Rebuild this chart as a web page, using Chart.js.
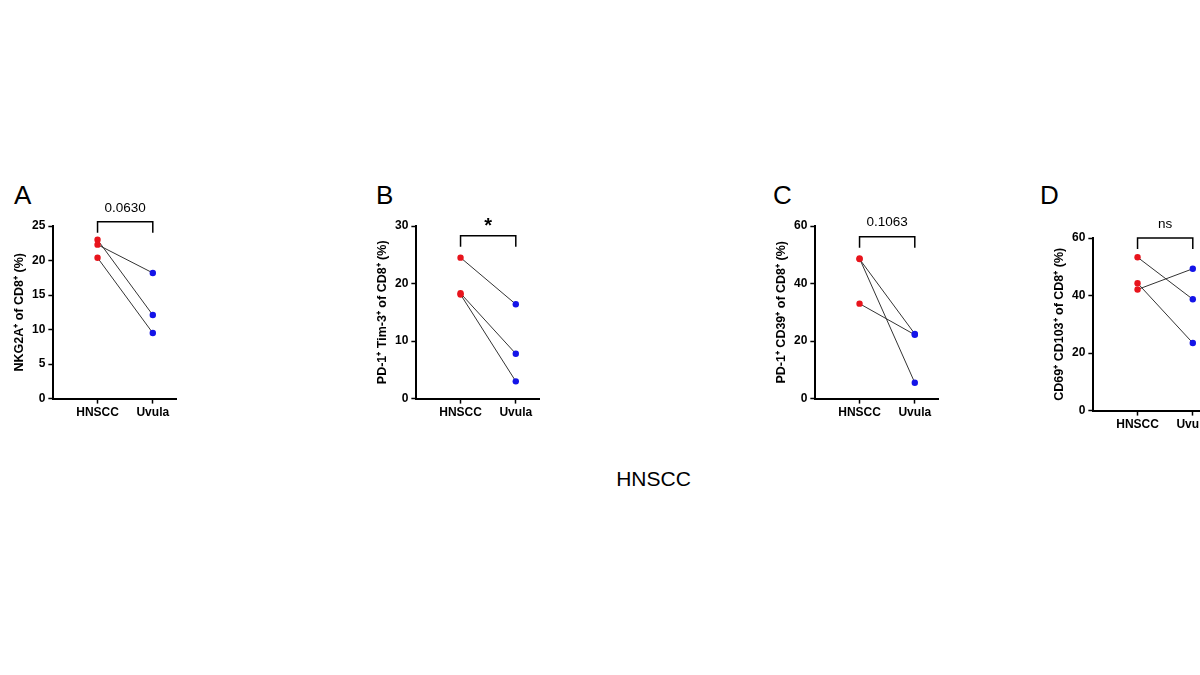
<!DOCTYPE html>
<html>
<head>
<meta charset="utf-8">
<script src="https://cdn.jsdelivr.net/npm/chart.js@4.4.0/dist/chart.umd.min.js"></script>
<style>
body { margin: 0; background: #fff; width: 1200px; height: 675px; overflow: hidden; position: relative; font-family: "Liberation Sans", Arial, sans-serif; }
.panel { position: absolute; }
.letter { position: absolute; font-size: 26px; color: #000; }
#title { position: absolute; left: 0; width: 1307px; top: 467px; text-align: center; font-size: 21px; }
</style>
</head>
<body>
<div class="letter" style="left:14px;top:180px">A</div>
<div class="letter" style="left:376px;top:180px">B</div>
<div class="letter" style="left:773px;top:180px">C</div>
<div class="letter" style="left:1040px;top:180px">D</div>
<div class="panel" style="left:6px;top:170px;width:200px;height:254px"><canvas id="cA"></canvas></div>
<div class="panel" style="left:369px;top:170px;width:200px;height:254px"><canvas id="cB"></canvas></div>
<div class="panel" style="left:768px;top:170px;width:200px;height:254px"><canvas id="cC"></canvas></div>
<div class="panel" style="left:1046px;top:182px;width:200px;height:254px"><canvas id="cD"></canvas></div>
<div id="title">HNSCC</div>
<script>
const groups = ['HNSCC', 'Uvula'];

// paired values [HNSCC, Uvula] per donor
const nkg2a = [[22.3, 18.2], [23.0, 12.1], [20.4, 9.5]];
const pd1tim3 = [[24.5, 16.4], [18.3, 7.8], [18.1, 3.0]];
const pd1cd39 = [[48.7, 5.5], [48.5, 22.5], [33.0, 22.2]];
const cd69cd103 = [[53.3, 38.7], [42.1, 49.3], [44.3, 23.5]];

// significance label and bracket height (y units)
const pA = '0.0630', pB = '*', pC = '0.1063', pD = 'ns';
const bA = 24.4, bB = 28.3, bC = 56.3, bD = 60;

const tickFont = { family: 'Liberation Sans', size: 12, weight: 'bold' };

const bracketPlugin = {
    id: 'bracket',
    afterDraw(chart) {
        const o = chart.options.plugins.bracket;
        const ctx = chart.ctx;
        const x = chart.scales.x;
        const x0 = x.getPixelForValue(0), x1 = x.getPixelForValue(1);
        const yb = chart.scales.y.getPixelForValue(o.level);
        ctx.save();
        ctx.strokeStyle = '#000';
        ctx.lineWidth = 1.5;
        ctx.beginPath();
        ctx.moveTo(x0, yb + 11);
        ctx.lineTo(x0, yb);
        ctx.lineTo(x1, yb);
        ctx.lineTo(x1, yb + 11);
        ctx.stroke();
        ctx.fillStyle = '#000';
        ctx.textAlign = 'center';
        ctx.textBaseline = 'middle';
        if (o.text === '*') {
            ctx.font = 'bold 20px Liberation Sans';
            ctx.fillText(o.text, (x0 + x1) / 2, yb - 9);
        } else {
            ctx.font = '13.5px Liberation Sans';
            ctx.fillText(o.text, (x0 + x1) / 2, yb - 14);
        }
        ctx.restore();
    }
};

function makePanel(id, pairs, yMax, yStep, yTitle, pText, level) {
    const datasets = pairs.map(p => ({
        data: [{ x: 0, y: p[0] }, { x: 1, y: p[1] }],
        borderColor: '#333',
        borderWidth: 1,
        pointBackgroundColor: ['#e8141c', '#1414e8'],
        pointBorderWidth: 0,
        pointRadius: 3.2
    }));
    new Chart(document.getElementById(id), {
        type: 'line',
        data: { datasets: datasets },
        options: {
            responsive: true,
            maintainAspectRatio: false,
            animation: false,
            layout: { padding: { top: 56, right: 30, bottom: 2, left: 4 } },
            plugins: { legend: { display: false }, tooltip: { enabled: false }, bracket: { text: pText, level: level } },
            scales: {
                x: {
                    type: 'linear', min: -0.8, max: 1.42,
                    afterBuildTicks: s => { s.ticks = [{ value: 0 }, { value: 1 }]; },
                    ticks: { color: '#000', font: tickFont, callback: v => groups[v], maxRotation: 0, padding: 2 },
                    grid: { display: true, drawOnChartArea: false, tickLength: 5, tickColor: '#000', tickWidth: 1.5 },
                    border: { color: '#000', width: 2 }
                },
                y: {
                    min: 0, max: yMax,
                    ticks: { stepSize: yStep, color: '#000', font: tickFont, padding: 3 },
                    grid: { display: true, drawOnChartArea: false, tickLength: 5, tickColor: '#000', tickWidth: 1.5 },
                    border: { color: '#000', width: 2 },
                    title: { display: true, text: yTitle, color: '#000', padding: 2, font: { family: 'Liberation Sans', size: 12.5, weight: 'bold' } }
                }
            }
        },
        plugins: [bracketPlugin]
    });
}

makePanel('cA', nkg2a, 25, 5, 'NKG2A⁺ of CD8⁺ (%)', pA, bA + 1.2);
makePanel('cB', pd1tim3, 30, 10, 'PD-1⁺ Tim-3⁺ of CD8⁺ (%)', pB, bB);
makePanel('cC', pd1cd39, 60, 20, 'PD-1⁺ CD39⁺ of CD8⁺ (%)', pC, bC);
makePanel('cD', cd69cd103, 60, 20, 'CD69⁺ CD103⁺ of CD8⁺ (%)', pD, bD);
</script>
</body>
</html>
